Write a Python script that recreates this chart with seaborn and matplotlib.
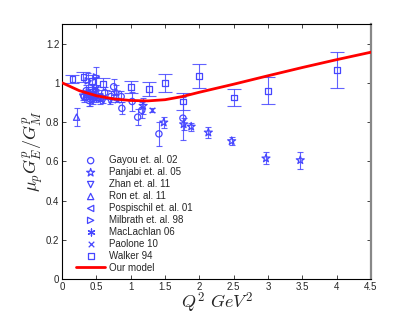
import numpy as np
import pandas as pd
import matplotlib
matplotlib.use("Agg")
import matplotlib.pyplot as plt
import seaborn as sns

# ---------------- data ----------------
gayou_x = [0.32, 0.35, 0.39, 0.45, 0.49, 0.55, 0.62, 0.71, 0.75, 0.86, 0.87, 1.02, 1.10, 1.16, 1.41, 1.76]
gayou_y = [0.93, 0.96, 0.91, 0.92, 0.94, 0.92, 0.95, 0.93, 0.98, 0.93, 0.87, 0.905, 0.825, 0.86, 0.74, 0.82]
gayou_e = [0.03, 0.03, 0.03, 0.03, 0.03, 0.03, 0.03, 0.03, 0.04, 0.03, 0.03, 0.05, 0.04, 0.04, 0.06, 0.11]

panjabi_x = [0.49, 0.79, 1.18, 1.48, 1.77, 1.88, 2.13, 2.47, 2.97, 3.47]
panjabi_y = [0.979, 0.951, 0.883, 0.798, 0.789, 0.777, 0.747, 0.703, 0.615, 0.606]
panjabi_e = [0.05, 0.04, 0.04, 0.03, 0.03, 0.02, 0.03, 0.02, 0.03, 0.043]

zhan_x = [0.30, 0.35, 0.40, 0.45, 0.50, 0.55, 0.60, 0.70]
zhan_y = [0.927, 0.943, 0.932, 0.931, 0.927, 0.924, 0.910, 0.908]
zhan_e = [0.015, 0.015, 0.015, 0.015, 0.015, 0.015, 0.015, 0.015]

ron_x = [0.21, 0.35, 0.45]
ron_y = [0.825, 0.94, 0.95]
ron_e = [0.045, 0.02, 0.02]

posp_x = [0.37, 0.40, 0.44]
posp_y = [0.95, 0.91, 0.96]
posp_e = [0.03, 0.03, 0.03]

milb_x = [0.38, 0.50]
milb_y = [1.01, 1.03]
milb_e = [0.04, 0.05]

macl_x = [0.50]
macl_y = [0.93]
macl_e = [0.03]

paol_x = [0.80, 1.31]
paol_y = [0.91, 0.863]
paol_e = [0.01, 0.01]

walker_x = [0.15, 0.31, 0.43, 0.60, 1.00, 1.26, 1.50, 1.76, 2.00, 2.50, 3.00, 4.00]
walker_y = [1.02, 1.03, 1.01, 0.995, 0.978, 0.97, 1.00, 0.905, 1.035, 0.925, 0.96, 1.065]
walker_e = [0.02, 0.025, 0.03, 0.03, 0.03, 0.035, 0.045, 0.045, 0.06, 0.044, 0.068, 0.09]

model_x = [0, 0.25, 0.5, 0.75, 1.0, 1.25, 1.5, 1.75, 2.0, 2.5, 3.0, 3.5, 4.0, 4.5]
model_y = [1.0, 0.96, 0.934, 0.918, 0.91, 0.908, 0.914, 0.93, 0.952, 0.993, 1.036, 1.078, 1.118, 1.156]

labels = ["Gayou et. al. 02", "Panjabi et. al. 05", "Zhan et. al. 11", "Ron et. al. 11",
          "Pospischil et. al. 01", "Milbrath et. al. 98", "MacLachlan 06", "Paolone 10", "Walker 94"]

# ---------------- style ----------------
sns.set_style("ticks")
plt.rcParams["font.family"] = ["Liberation Sans", "DejaVu Sans"]
plt.rcParams["mathtext.fontset"] = "cm"
plt.rcParams["xtick.direction"] = "in"
plt.rcParams["ytick.direction"] = "in"

blue = "#4646ff"

fig = plt.figure(figsize=(4.09, 3.15), dpi=100)
ax = fig.add_axes([0.152, 0.114, 0.755, 0.81])

series = [
    (gayou_x, gayou_y, gayou_e, "o", 4.5, 2),
    (panjabi_x, panjabi_y, panjabi_e, "*", 6, 2),
    (zhan_x, zhan_y, zhan_e, "v", 4.5, 2),
    (ron_x, ron_y, ron_e, "^", 4.5, 2),
    (posp_x, posp_y, posp_e, "<", 4.5, 2),
    (milb_x, milb_y, milb_e, ">", 4.5, 2),
    (macl_x, macl_y, macl_e, (6, 2, 0), 5, 2),
    (paol_x, paol_y, paol_e, "x", 4, 2),
    (walker_x, walker_y, walker_e, "s", 4.2, 5),
]

for (xs, ys, es, mk, ms, cs), lab in zip(series, labels):
    filled = mk == "x" or isinstance(mk, tuple)
    ax.errorbar(xs, ys, yerr=es, fmt="none", ecolor=blue, elinewidth=0.8,
                capsize=cs, capthick=0.8, alpha=0.85)
    df = pd.DataFrame({"x": xs, "y": ys})
    if filled:
        sns.scatterplot(data=df, x="x", y="y", marker=mk, s=ms**2, color=blue,
                        edgecolor=blue, linewidth=0.9, ax=ax, label=lab, zorder=3)
    else:
        sns.scatterplot(data=df, x="x", y="y", marker=mk, s=ms**2, facecolor="none",
                        edgecolor=blue, linewidth=0.9, ax=ax, label=lab, zorder=3)

mdf = pd.DataFrame({"x": model_x, "y": model_y})
sns.lineplot(data=mdf, x="x", y="y", color="red", linewidth=2, ax=ax,
             label="Our model", zorder=4)

ax.set_xlim(0, 4.5)
ax.set_ylim(0, 1.3)
ax.set_xticks(np.arange(0, 4.51, 0.5))
ax.set_xticklabels(["0", "0.5", "1", "1.5", "2", "2.5", "3", "3.5", "4", "4.5"])
ax.set_yticks([0, 0.2, 0.4, 0.6, 0.8, 1.0, 1.2])
ax.set_yticklabels(["0", "0.2", "0.4", "0.6", "0.8", "1", "1.2"])
ax.tick_params(axis="both", labelsize=7, length=3, width=0.6, top=True, right=True,
               pad=2)
for s in ["left", "bottom", "top"]:
    ax.spines[s].set_visible(True)
    ax.spines[s].set_linewidth(0.8)
    ax.spines[s].set_color("black")
ax.spines["right"].set_visible(True)
ax.spines["right"].set_color("#888888")
ax.spines["right"].set_linewidth(1.6)

ax.set_xlabel(r"$Q^2\ GeV^2$", fontsize=13, labelpad=-1)
ax.set_ylabel(r"$\mu_p G_E^p/G_M^p$", fontsize=13, labelpad=0)

leg = ax.legend(loc="lower left", bbox_to_anchor=(0.045, 0.025), frameon=False,
                fontsize=7, handlelength=3, handletextpad=0.4, labelspacing=0.2,
                borderaxespad=0, borderpad=0)

fig.savefig("out.png", dpi=100)
